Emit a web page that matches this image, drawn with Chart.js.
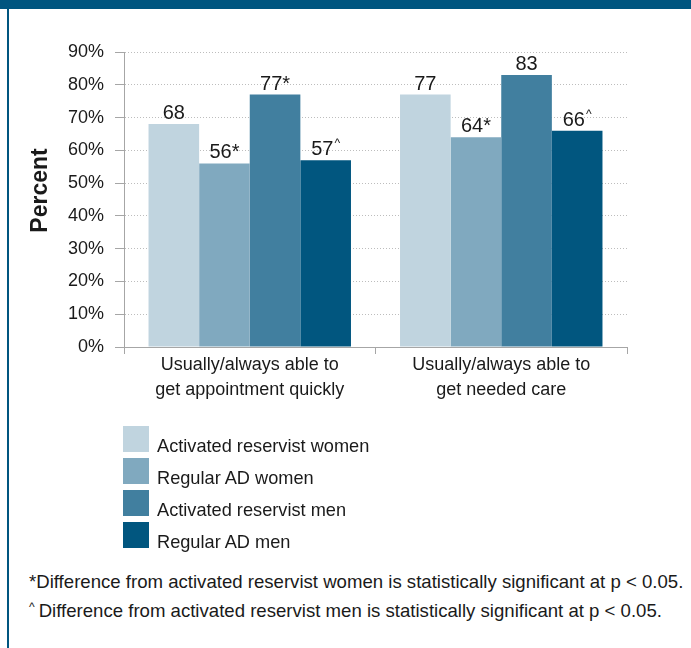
<!DOCTYPE html>
<html>
<head>
<meta charset="utf-8">
<script src="https://cdn.jsdelivr.net/npm/chart.js@4/dist/chart.umd.min.js"></script>
<style>
  html, body { margin: 0; padding: 0; background: #fff; }
  body { width: 691px; height: 648px; position: relative; overflow: hidden;
         font-family: "Liberation Sans", Arial, sans-serif; color: #1a1a1a; }
  #band { position: absolute; left: 0; top: 0; width: 691px; height: 9px; background: #00557f; }
  #rule { position: absolute; left: 7px; top: 0; width: 2px; height: 648px; background: #00557f; }
  #chart { position: absolute; left: 0; top: 0; }
  .lg-box { position: absolute; left: 123px; width: 26px; height: 26px; }
  .lg-text { position: absolute; left: 157px; font-size: 18.2px; line-height: 26px; white-space: nowrap; }
  .note { position: absolute; left: 29px; font-size: 18.6px; line-height: 26px; white-space: nowrap; }
  .caret { font-size: 12px; position: relative; top: -6px; margin-right: 4px; }
</style>
</head>
<body>
<div id="band"></div>
<div id="rule"></div>
<canvas id="chart" width="691" height="430"></canvas>
<div id="legend"></div>
<div id="notes"></div>
<script>
// Survey measures shown on the x axis
const categories = [
  ["Usually/always able to", "get appointment quickly"],
  ["Usually/always able to", "get needed care"]
];

// Percent reporting, one array per group
const seriesNames = [
  "Activated reservist women",
  "Regular AD women",
  "Activated reservist men",
  "Regular AD men"
];
const activatedReservistWomen = [68, 77];
const regularADWomen = [56, 64];
const activatedReservistMen = [77, 83];
const regularADMen = [57, 66];

// Significance markers printed after each value
const markAsterisk = "*";
const markCaret = "^";
const activatedReservistWomenMarks = ["", ""];
const regularADWomenMarks = [markAsterisk, markAsterisk];
const activatedReservistMenMarks = [markAsterisk, ""];
const regularADMenMarks = [markCaret, markCaret];

const seriesColors = ["#c0d4df", "#80a9bf", "#417f9f", "#01567f"];

const yAxisTitle = "Percent";

const footnotes = [
  { mark: markAsterisk, text: "Difference from activated reservist women is statistically significant at p < 0.05." },
  { mark: markCaret, text: "Difference from activated reservist men is statistically significant at p < 0.05." }
];

const FONT = '"Liberation Sans", Arial, sans-serif';
const TEXT = "#1a1a1a";
const AXIS = "#a6a6a6";

const seriesValues = [activatedReservistWomen, regularADWomen, activatedReservistMen, regularADMen];
const seriesMarks = [activatedReservistWomenMarks, regularADWomenMarks, activatedReservistMenMarks, regularADMenMarks];

// Value labels above each bar; the caret is set small and raised
const valueLabels = {
  id: "valueLabels",
  afterDatasetsDraw(chart) {
    const ctx = chart.ctx;
    ctx.save();
    ctx.fillStyle = TEXT;
    ctx.textBaseline = "alphabetic";
    ctx.textAlign = "left";
    chart.data.datasets.forEach((ds, di) => {
      const meta = chart.getDatasetMeta(di);
      meta.data.forEach((bar, i) => {
        const num = String(ds.data[i]);
        const mark = seriesMarks[di][i];
        const bigFont = "20px " + FONT;
        const smallFont = "12px " + FONT;
        ctx.font = bigFont;
        const wNum = ctx.measureText(num).width;
        let wMark = 0;
        if (mark === markAsterisk) {
          wMark = ctx.measureText(mark).width;
        } else if (mark === markCaret) {
          ctx.font = smallFont;
          wMark = ctx.measureText(mark).width + 1;
        }
        const x0 = bar.x - (wNum + wMark) / 2;
        const y = bar.y - 5;
        ctx.font = bigFont;
        ctx.fillText(num, x0, y);
        if (mark === markAsterisk) {
          ctx.fillText(mark, x0 + wNum, y);
        } else if (mark === markCaret) {
          ctx.font = smallFont;
          ctx.fillText(mark, x0 + wNum + 1, y - 8);
        }
      });
    });
    ctx.restore();
  }
};

// Rotated y-axis title, sitting a little above the axis midpoint
const axisTitle = {
  id: "axisTitle",
  afterDraw(chart) {
    const ctx = chart.ctx;
    const area = chart.chartArea;
    ctx.save();
    ctx.translate(41, (area.top + area.bottom) / 2 - 9);
    ctx.rotate(-Math.PI / 2);
    ctx.font = "bold 23px " + FONT;
    ctx.fillStyle = TEXT;
    ctx.textAlign = "center";
    ctx.textBaseline = "middle";
    ctx.fillText(yAxisTitle, 0, 0);
    ctx.restore();
  }
};

new Chart(document.getElementById("chart"), {
  type: "bar",
  data: {
    labels: categories,
    datasets: seriesNames.map((name, i) => ({
      label: name,
      data: seriesValues[i],
      backgroundColor: seriesColors[i],
      borderWidth: 0,
      categoryPercentage: 0.805,
      barPercentage: 1.0
    }))
  },
  options: {
    responsive: false,
    animation: false,
    devicePixelRatio: 1,
    layout: { padding: { left: 22, right: 64, top: 52, bottom: 0 } },
    plugins: {
      legend: { display: false },
      tooltip: { enabled: false }
    },
    scales: {
      x: {
        offset: true,
        grid: {
          display: true,
          drawOnChartArea: false,
          drawTicks: true,
          tickLength: 7,
          tickColor: AXIS,
          color: AXIS,
          offset: true
        },
        border: { display: true, color: AXIS, width: 1 },
        ticks: {
          color: TEXT,
          padding: -2,
          maxRotation: 0,
          autoSkip: false,
          font: { family: FONT, size: 18, lineHeight: 1.4 }
        },
        afterFit(scale) { scale.height = 83; }
      },
      y: {
        min: 0,
        max: 90,
        ticks: {
          stepSize: 10,
          color: TEXT,
          padding: 11,
          font: { family: FONT, size: 18 },
          callback: (v) => v + "%"
        },
        grid: {
          drawTicks: true,
          tickLength: 9,
          tickColor: AXIS,
          tickBorderDash: [],
          lineWidth: 1,
          color: (c) => (c.tick && c.tick.value === 0 ? "rgba(0,0,0,0)" : "#bdbdbd")
        },
        border: { display: true, color: AXIS, width: 1, dash: [1, 2] },
        afterFit(scale) { scale.width = 102; }
      }
    }
  },
  plugins: [valueLabels, axisTitle]
});

// Legend: one swatch and label per series
const legend = document.getElementById("legend");
seriesNames.forEach((name, i) => {
  const top = 426 + i * 32;
  const box = document.createElement("div");
  box.className = "lg-box";
  box.style.top = top + "px";
  box.style.background = seriesColors[i];
  const txt = document.createElement("div");
  txt.className = "lg-text";
  txt.style.top = (top + 7) + "px";
  txt.textContent = name;
  legend.appendChild(box);
  legend.appendChild(txt);
});

// Significance footnotes
const notes = document.getElementById("notes");
footnotes.forEach((f, i) => {
  const line = document.createElement("div");
  line.className = "note";
  line.style.top = (569 + i * 29) + "px";
  if (f.mark === markCaret) {
    const c = document.createElement("span");
    c.className = "caret";
    c.textContent = f.mark;
    line.appendChild(c);
    line.appendChild(document.createTextNode(f.text));
  } else {
    line.textContent = f.mark + f.text;
  }
  notes.appendChild(line);
});
</script>
</body>
</html>
